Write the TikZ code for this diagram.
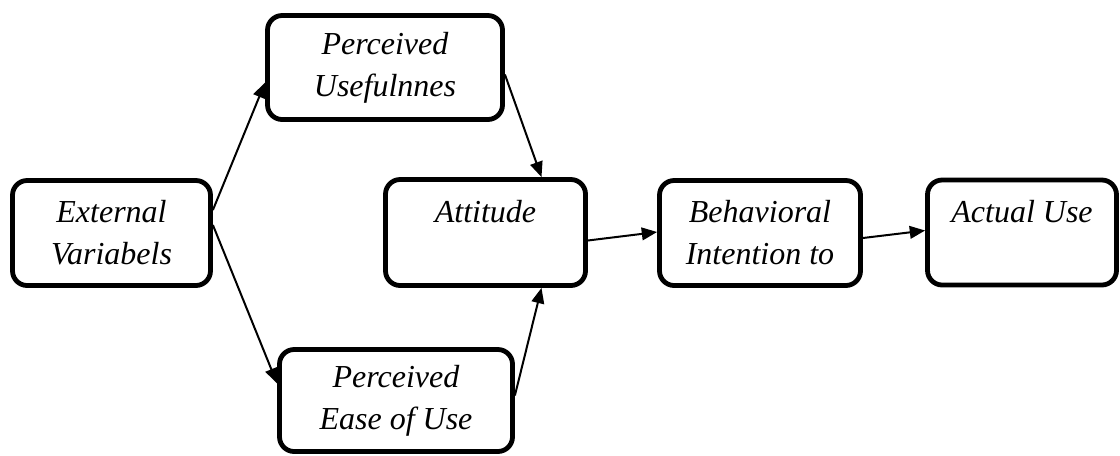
\documentclass[tikz,border=0pt]{standalone}
\usepackage{fontspec}
\setmainfont{Liberation Serif}
\usetikzlibrary{arrows.meta,calc}
\begin{document}
\begin{tikzpicture}[x=0.75pt,y=-0.75pt,
  box/.style={draw,line width=3.6pt,rounded corners=11pt,align=center,
    font=\fontsize{24}{31.5}\selectfont\itshape,inner sep=0pt},
  conn/.style={line width=1.5pt,-{Triangle[length=11.5pt,width=9.5pt]}}]
\useasboundingbox (0,0) rectangle (1120,455);
\node[box,minimum width=148.5pt,minimum height=78.75pt] (ext) at (111.5,233) {External\\Variabels};
\node[box,minimum width=176.25pt,minimum height=78pt] (pu) at (385,67.5) {Perceived\\Usefulnnes};
\node[box,minimum width=174.75pt,minimum height=76.5pt] (peou) at (396,400.5) {Perceived\\Ease of Use};
\node[box,minimum width=150pt,minimum height=79.5pt] (att) at (485.5,232.5) {Attitude\\\mbox{}};
\node[box,minimum width=150.75pt,minimum height=78.75pt] (beh) at (760,233) {Behavioral\\Intention to};
\node[box,minimum width=141.75pt,minimum height=78.75pt] (act) at (1022,232.5) {Actual Use\\\mbox{}};
\draw[conn] ($(ext.east)+(0,-23)$) -- ($(pu.west)+(0,15)$);
\draw[conn] ($(ext.east)+(0,-8)$) -- ($(peou.west)+(0,-17)$);
\draw[conn] ($(pu.east)+(0,7)$) -- ($(att.north)+(56,0)$);
\draw[conn] ($(peou.east)+(0,-5)$) -- ($(att.south)+(56,0)$);
\draw[conn] ($(att.east)+(0,8)$) -- ($(beh.west)+(0,-1)$);
\draw[conn] ($(beh.east)+(0,5)$) -- ($(act.west)+(0,-2)$);
\end{tikzpicture}
\end{document}
